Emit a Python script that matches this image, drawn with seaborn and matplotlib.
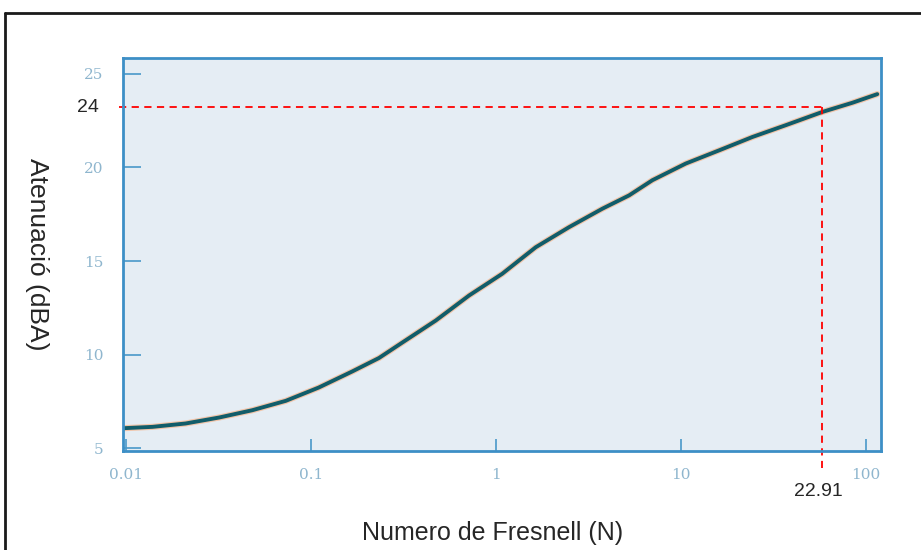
import matplotlib
matplotlib.use("Agg")
import matplotlib.pyplot as plt
from matplotlib.lines import Line2D
import seaborn as sns
import numpy as np

# curve (Fresnel number N vs attenuation in dBA)
fresnel_n = [0.00975, 0.0139, 0.021, 0.0319, 0.0482, 0.073, 0.11, 0.167, 0.233,
             0.312, 0.472, 0.715, 1.08, 1.33, 1.64, 2.48, 3.76, 5.24, 7.0, 10.6,
             16.1, 24.3, 36.8, 58.1, 84.4, 115]
atten_dba = [6.07, 6.14, 6.32, 6.64, 7.03, 7.53, 8.24, 9.10, 9.82,
             10.65, 11.82, 13.16, 14.32, 15.03, 15.74, 16.81, 17.80, 18.51, 19.32, 20.21,
             20.92, 21.63, 22.26, 22.97, 23.46, 23.92]

x_ticks = [0.01, 0.1, 1, 10, 100]
x_ticklabels = ["0.01", "0.1", "1", "10", "100"]
y_ticks = [5, 10, 15, 20, 25]

mark_n = 58.1
mark_db = 23.21

sns.set_style("white")
plt.rcParams['font.family'] = ['Liberation Sans', 'DejaVu Sans']

fig = plt.figure(figsize=(9.21, 5.5), dpi=100)
ax = fig.add_axes([0.1336, 0.18, 0.823, 0.7145])
ax.set_facecolor('#e5edf4')

# faint orange halo under the curve, like the scanned original
sns.lineplot(x=fresnel_n, y=atten_dba, ax=ax, color='#f2c4a8', linewidth=4.4, sort=True)
sns.lineplot(x=fresnel_n, y=atten_dba, ax=ax, color='#115d6a', linewidth=2.8, sort=True)

ax.set_xscale('log')
ax.set_xlim(10 ** -2.016, 10 ** 2.081)
ax.set_ylim(4.85, 25.85)

ax.set_xticks(x_ticks)
ax.set_xticklabels(x_ticklabels)
ax.set_yticks(y_ticks)
ax.minorticks_off()
ax.tick_params(axis='both', direction='in', colors='#4a98c9', labelcolor='#8fb6ce',
               labelsize=11, width=1.2, bottom=True, left=True)
ax.tick_params(axis='x', length=9, pad=12)
ax.tick_params(axis='y', length=13, pad=14)
for lab in ax.get_xticklabels() + ax.get_yticklabels():
    lab.set_family('DejaVu Serif')

for sp in ax.spines.values():
    sp.set_color('#3d8fc6')
    sp.set_linewidth(2)

# red guide lines for the read-off point
ax.plot([10 ** -2.038, mark_n], [mark_db, mark_db], color='red', linestyle=(0, (4, 3)),
        linewidth=1.3, clip_on=False)
ax.plot([mark_n, mark_n], [mark_db, 3.96], color='red', linestyle=(0, (4, 3)),
        linewidth=1.3, clip_on=False)

ax.set_xlabel("Numero de Fresnell (N)", fontsize=18)
ax.set_ylabel("Atenuació (dBA)", fontsize=19, rotation=270, va='center')
ax.yaxis.set_label_coords(-0.114, 0.50)
ax.xaxis.set_label_coords(0.488, -0.178)

fig.text(88 / 921, 1 - 107 / 550, "24", fontsize=14, ha='center', va='center')
fig.text(818 / 921, 1 - 492 / 550, "22.91", fontsize=14, ha='center', va='center')

# outer frame (only left and top edges fall inside the image)
fig.add_artist(Line2D([5 / 921, 5 / 921], [0, 1 - 13 / 550], color='#1a1a1a', linewidth=2,
                      transform=fig.transFigure))
fig.add_artist(Line2D([5 / 921, 1], [1 - 13 / 550, 1 - 13 / 550], color='#1a1a1a',
                      linewidth=2, transform=fig.transFigure))

fig.savefig("out.png", dpi=100)
